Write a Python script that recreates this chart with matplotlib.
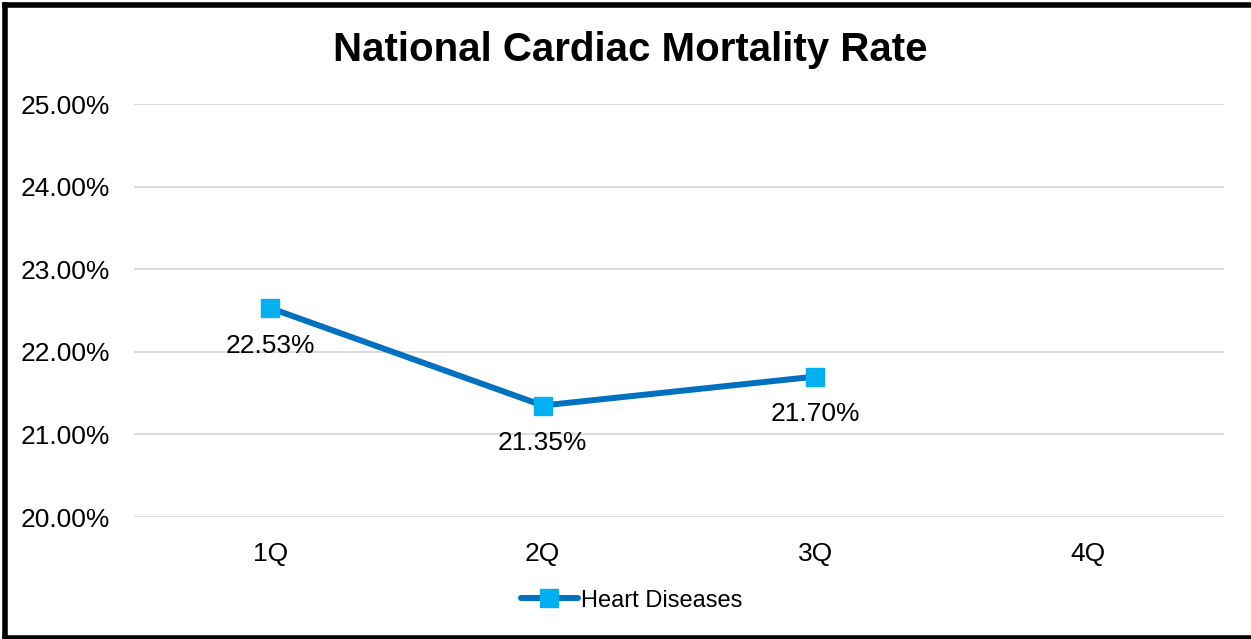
import matplotlib
matplotlib.use("Agg")
import matplotlib.pyplot as plt
from matplotlib.lines import Line2D
from matplotlib.ticker import FuncFormatter

categories = ["1Q", "2Q", "3Q", "4Q"]
values = [22.53, 21.35, 21.70]
series_name = "Heart Diseases"
title = "National Cardiac Mortality Rate"

plt.rcParams['font.family'] = ['Liberation Sans', 'DejaVu Sans']

fig = plt.figure(figsize=(12.51, 6.39), dpi=100)
ax = fig.add_axes([0.1071, 0.1909, 0.8713, 0.6463])

x = list(range(len(categories)))
ax.plot(x[:len(values)], values, color='#0070C0', lw=4.3, marker='s',
        markersize=13, markerfacecolor='#00B0F0', markeredgecolor='#00B0F0',
        label=series_name, solid_capstyle='round', zorder=3)

for xi, v in zip(x, values):
    ax.annotate(f"{v:.2f}%", (xi, v), xytext=(0, -27), textcoords='offset points',
                ha='center', va='center', fontsize=19, color='black')

ax.set_xlim(-0.5, len(categories) - 0.5)
ax.set_ylim(20, 25)
ax.set_yticks([20, 21, 22, 23, 24, 25])
ax.yaxis.set_major_formatter(FuncFormatter(lambda v, p: f"{v:.2f}%"))
ax.set_xticks(x)
ax.set_xticklabels(categories)
ax.tick_params(axis='both', length=0, labelsize=19, colors='black')
ax.tick_params(axis='y', pad=17)
ax.tick_params(axis='x', pad=18)
ax.grid(axis='y', color='#D9D9D9', lw=1.3)
ax.set_axisbelow(True)
for s in ax.spines.values():
    s.set_visible(False)

fig.text(0.504, 0.922, title, ha='center', va='center', fontsize=29, fontweight='bold')

leg = fig.legend(loc='center', bbox_to_anchor=(0.505, 0.06), frameon=False,
                 fontsize=17, handlelength=2.4, handletextpad=0.15)

# figure border
lw = 4
fig.add_artist(Line2D([0.004, 0.004], [0, 0.992], transform=fig.transFigure, color='black', lw=lw, solid_capstyle='projecting'))
fig.add_artist(Line2D([0.004, 1.0], [0.992, 0.992], transform=fig.transFigure, color='black', lw=lw, solid_capstyle='projecting'))
fig.add_artist(Line2D([0.004, 1.0], [0.002, 0.002], transform=fig.transFigure, color='black', lw=lw, solid_capstyle='projecting'))

fig.savefig("out.png", dpi=100)
